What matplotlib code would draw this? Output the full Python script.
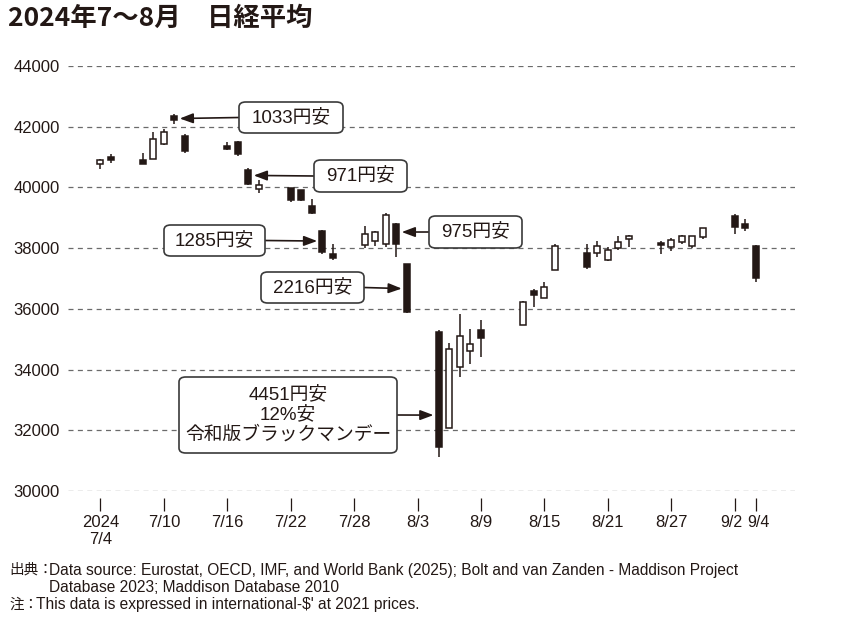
import pandas as pd
import matplotlib.pyplot as plt
from matplotlib.patches import FancyBboxPatch
from matplotlib.transforms import ScaledTranslation

# 日経平均 日足 (2024/7/4 - 9/4)
dates = ['2024-07-04', '2024-07-05', '2024-07-08', '2024-07-09', '2024-07-10', '2024-07-11',
         '2024-07-12', '2024-07-16', '2024-07-17', '2024-07-18', '2024-07-19', '2024-07-22',
         '2024-07-23', '2024-07-24', '2024-07-25', '2024-07-26', '2024-07-29', '2024-07-30',
         '2024-07-31', '2024-08-01', '2024-08-02', '2024-08-05', '2024-08-06', '2024-08-07',
         '2024-08-08', '2024-08-09', '2024-08-13', '2024-08-14', '2024-08-15', '2024-08-16',
         '2024-08-19', '2024-08-20', '2024-08-21', '2024-08-22', '2024-08-23', '2024-08-26',
         '2024-08-27', '2024-08-28', '2024-08-29', '2024-08-30', '2024-09-02', '2024-09-03',
         '2024-09-04']
opens = [40760, 41010, 40890, 40950, 41440, 42368, 41710, 41381, 41490, 40582, 39960, 39977,
         39901, 39375, 38553, 37796, 38115, 38234, 38148, 38805, 37470, 35240, 32062, 34089,
         34615, 35296, 35483, 36579, 36371, 37293, 37852, 37850, 37622, 38017, 38289, 38168,
         38036, 38201, 38069, 38366, 39046, 38783, 38059]
highs = [40950, 41090, 41130, 41830, 41920, 42424, 41766, 41490, 41530, 40637, 40230, 39990,
         39920, 39628, 38590, 38125, 38717, 38550, 39170, 38830, 37480, 35320, 34890, 35822,
         35352, 35640, 36260, 36668, 36885, 38140, 38148, 38250, 38036, 38400, 38421, 38234,
         38345, 38444, 38390, 38674, 39112, 38970, 38092]
lows = [40620, 40790, 40760, 40940, 41400, 42095, 41150, 41217, 41050, 40089, 39813, 39520,
        39540, 39112, 37819, 37620, 38016, 38069, 38030, 37710, 35880, 31130, 32062, 33740,
        34200, 34418, 35470, 36062, 36350, 37293, 37303, 37700, 37575, 37950, 38040, 37819,
        37905, 38125, 38020, 38299, 38477, 38562, 36885]
closes = [40914, 40912, 40781, 41580, 41832, 42224, 41191, 41275, 41098, 40126, 40064, 39599,
          39594, 39155, 37870, 37667, 38469, 38526, 39102, 38126, 35910, 31458, 34675, 35090,
          34831, 35025, 36233, 36442, 36727, 38063, 37389, 38060, 37952, 38201, 38388, 38110,
          38279, 38388, 38388, 38674, 38694, 38661, 37016]

tick_dates = ['2024-07-04', '2024-07-10', '2024-07-16', '2024-07-22', '2024-07-28', '2024-08-03',
              '2024-08-09', '2024-08-15', '2024-08-21', '2024-08-27', '2024-09-02', '2024-09-04']
tick_labels = ['2024\n7/4', '7/10', '7/16', '7/22', '7/28', '8/3', '8/9', '8/15', '8/21', '8/27',
               '9/2', '9/4']
yticks = [30000, 32000, 34000, 36000, 38000, 40000, 42000, 44000]

# 吹き出し: テキスト, 矢印の先 (日付, 値)
notes = ['1033円安', '971円安', '1285円安', '975円安', '2216円安', '4451円安\n12%安\n令和版ブラックマンデー']
note_dates = ['2024-07-11', '2024-07-18', '2024-07-25', '2024-08-01', '2024-08-02', '2024-08-05']
note_values = [42270, 40395, 38234, 38530, 36668, 32500]

plt.rcParams['font.family'] = ['Liberation Sans', 'Noto Sans CJK JP', 'DejaVu Sans']

INK = '#231815'
W, H = 842, 625

start = pd.Timestamp(dates[0])
x = [(pd.Timestamp(d) - start).days for d in dates]
xt = [(pd.Timestamp(d) - start).days for d in tick_dates]

fig = plt.figure(figsize=(W / 100, H / 100), dpi=100)
ax = fig.add_axes([68 / W, 1 - 491 / H, (795 - 68) / W, (491 - 66) / H])

# ローソク足
body_w = 0.56
ax.vlines(x, lows, highs, color=INK, lw=1.1, zorder=2)
for xi, o, c in zip(x, opens, closes):
    up = c >= o
    ax.bar(xi, abs(c - o), body_w, bottom=min(o, c), color='white' if up else INK,
           edgecolor=INK, linewidth=1.1, zorder=3)

ax.set_xlim(-3.07, 65.7)
ax.set_ylim(30000, 44000)
ax.set_yticks(yticks)
ax.set_yticklabels([str(v) for v in yticks])
ax.set_xticks(xt)
ax.set_xticklabels(tick_labels)
ax.grid(axis='y', color='#6b6b6b', lw=0.9, linestyle=(0, (4, 3.5)))
ax.set_axisbelow(True)
for s in ['top', 'right', 'left']:
    ax.spines[s].set_visible(False)
ax.spines['bottom'].set_position(('outward', 5))
ax.spines['bottom'].set_visible(False)
ax.tick_params(axis='y', length=0, pad=6, labelsize=12, labelcolor=INK)
ax.tick_params(axis='x', length=9, width=0.9, color=INK, pad=3, labelsize=12, labelcolor=INK)

# 9/2 と 9/4 は近いので少しずらす
xlabs = ax.get_xticklabels()
for lab, dx in [(xlabs[-2], -3), (xlabs[-1], 3)]:
    lab.set_fontsize(11.5)
    lab.set_transform(lab.get_transform() + ScaledTranslation(dx / 100, 0, fig.dpi_scale_trans))

# 吹き出し (ピクセル位置: 左, 上, 右, 下)
boxes = [(239, 102, 343, 133), (314, 160, 407, 192), (164, 225, 265, 256),
         (429, 216, 522, 248), (261, 272, 364, 303), (179, 377, 397, 453)]
for (x0, y0, x1, y1), s, d, v in zip(boxes, notes, note_dates, note_values):
    patch = FancyBboxPatch((x0 / W, 1 - y1 / H), (x1 - x0) / W, (y1 - y0) / H,
                           boxstyle='round,pad=0,rounding_size=0.008', transform=fig.transFigure,
                           facecolor='white', edgecolor='#3a3a3a', lw=1.2, zorder=5)
    fig.patches.append(patch)
    fig.text((x0 + x1) / 2 / W, 1 - (y0 + y1) / 2 / H + 0.001, s, ha='center', va='center',
             fontsize=13.5, color=INK, linespacing=1.2, zorder=6)
    xd = (pd.Timestamp(d) - start).days
    # 箱がローソク足の右なら左端から、左なら右端から
    ex = x0 if ax.transData.transform((xd, v))[0] < x0 else x1
    ey = (y0 + y1) / 2
    ax.annotate('', xy=(xd + (0.5 if ex == x0 else -0.5), v), xycoords='data',
                xytext=(ex / W, 1 - ey / H), textcoords='figure fraction',
                arrowprops=dict(arrowstyle='-|>,head_length=0.8,head_width=0.3', color=INK,
                                lw=1.2, shrinkA=0, shrinkB=0), zorder=6)

fig.text(8 / W, 1 - 5 / H, '2024年7～8月　日経平均', ha='left', va='top', fontsize=19,
         fontweight='bold', color=INK, family=['Noto Sans CJK JP'])

fig.text(9 / W, 1 - 570 / H, '出典：', ha='left', va='center', fontsize=10.5, color=INK,
         family=['Noto Sans CJK JP'])
fig.text(49 / W, 1 - 570 / H, 'Data source: Eurostat, OECD, IMF, and World Bank (2025); Bolt and van Zanden - Maddison Project',
         ha='left', va='center', fontsize=11.2, color=INK)
fig.text(49 / W, 1 - 587 / H, 'Database 2023; Maddison Database 2010',
         ha='left', va='center', fontsize=11.2, color=INK)
fig.text(9 / W, 1 - 605 / H, '注：', ha='left', va='center', fontsize=10.5, color=INK,
         family=['Noto Sans CJK JP'])
fig.text(36 / W, 1 - 605 / H, "This data is expressed in international-$' at 2021 prices.",
         ha='left', va='center', fontsize=11.2, color=INK)

fig.savefig('out.png', dpi=100)
